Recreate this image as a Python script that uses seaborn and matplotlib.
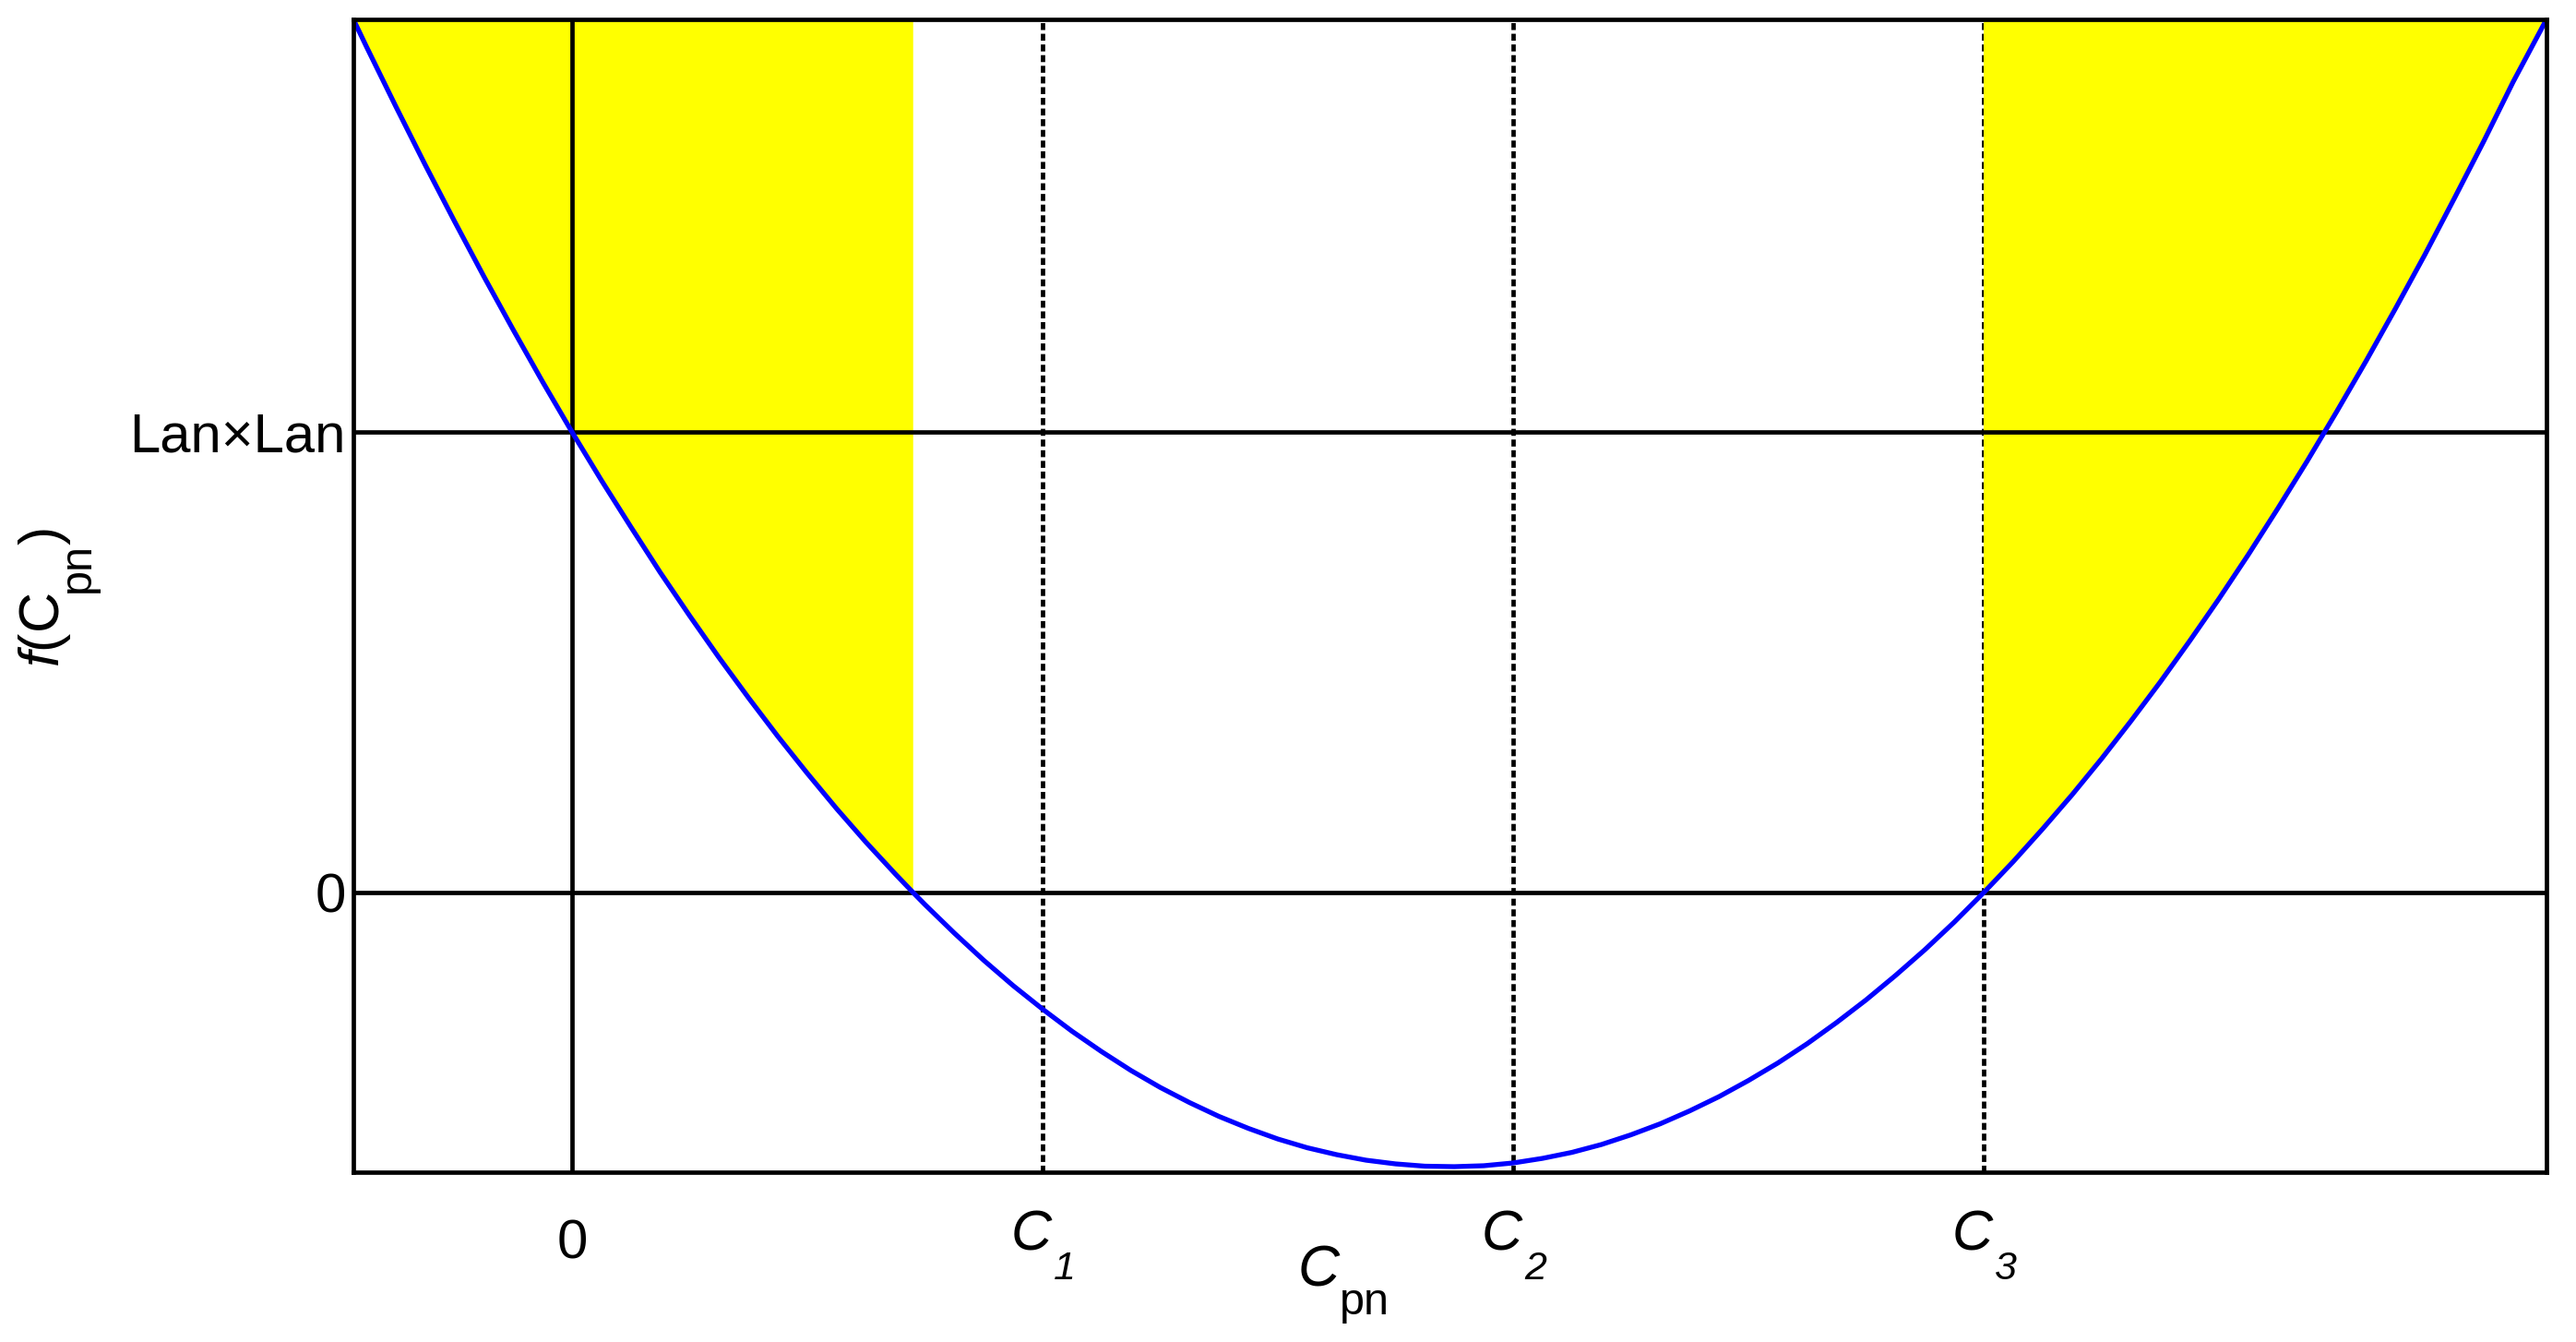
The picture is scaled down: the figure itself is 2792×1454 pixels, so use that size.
import matplotlib
matplotlib.use("Agg")
import matplotlib.pyplot as plt
import matplotlib.transforms as mtransforms
import seaborn as sns
import numpy as np
import pandas as pd

# ---- data (x in units of the C spacing, y in units of Lan×Lan) ----
cpn = [-0.4647, -0.4375, -0.375, -0.3125, -0.25, -0.1875, -0.125, -0.0625, 0.0,
       0.0625, 0.125, 0.1875, 0.25, 0.3125, 0.375, 0.4375, 0.5, 0.5625, 0.625,
       0.6875, 0.725, 0.75, 0.8125, 0.875, 0.9375, 1.0, 1.0625, 1.125, 1.1875,
       1.25, 1.3125, 1.375, 1.4375, 1.5, 1.5625, 1.625, 1.6875, 1.75, 1.8125,
       1.875, 1.9375, 2.0, 2.0625, 2.125, 2.1875, 2.25, 2.3125, 2.375, 2.4375,
       2.5, 2.5625, 2.625, 2.6875, 2.75, 2.8125, 2.875, 2.9375, 3.0, 3.0625,
       3.125, 3.1875, 3.25, 3.3125, 3.375, 3.4375, 3.5, 3.5625, 3.625, 3.6875,
       3.75, 3.8125, 3.875, 3.9375, 4.0, 4.0625, 4.125, 4.196]
f_cpn = [1.896, 1.838, 1.708, 1.581, 1.458, 1.338, 1.222, 1.109, 1.000,
         0.895, 0.794, 0.695, 0.601, 0.510, 0.423, 0.339, 0.259, 0.182, 0.109,
         0.040, 0.0, -0.026, -0.088, -0.147, -0.202, -0.253, -0.301, -0.345, -0.386,
         -0.423, -0.456, -0.486, -0.512, -0.535, -0.554, -0.569, -0.581, -0.589, -0.594,
         -0.595, -0.593, -0.587, -0.577, -0.564, -0.547, -0.526, -0.502, -0.474, -0.443,
         -0.408, -0.370, -0.328, -0.282, -0.233, -0.180, -0.124, -0.064, 0.0, 0.067,
         0.138, 0.212, 0.290, 0.372, 0.457, 0.546, 0.638, 0.734, 0.834, 0.937,
         1.044, 1.154, 1.268, 1.385, 1.507, 1.631, 1.760, 1.896]

xtick_pos = [0, 1, 2, 3]
xtick_labels = ["0", "C", "C", "C"]
xtick_subs = ["", "1", "2", "3"]
ytick_pos = [0, 1]
ytick_labels = ["0", "Lan×Lan"]
dashed_x = [1, 2, 3]
solid_x = [0]
solid_y = [0, 1]
x_range = [-0.4647, 4.196]
y_range = [-0.607, 1.896]

df = pd.DataFrame({"Cpn": cpn, "f": f_cpn})

sns.set_theme(style="white")
plt.rcParams["font.family"] = ["Liberation Sans", "DejaVu Sans"]
plt.rcParams["mathtext.fontset"] = "custom"
plt.rcParams["mathtext.rm"] = "Liberation Sans"
plt.rcParams["mathtext.it"] = "Liberation Sans:italic"

W, H = 2792, 1454
fig = plt.figure(figsize=(W / 100, H / 100), dpi=100)
ax_l, ax_r, ax_t, ax_b = 383, 2760, 21, 1270
ax = fig.add_axes([ax_l / W, 1 - ax_b / H, (ax_r - ax_l) / W, (ax_b - ax_t) / H])
AW, AH = ax_r - ax_l, ax_b - ax_t

def fx(px):
    return (px - ax_l) / AW

def fy(py):
    return (ax_b - py) / AH

x = np.array(cpn)
y = np.array(f_cpn)
ax.fill_between(x, y, y_range[1], where=(y >= 0), interpolate=True,
                color="#ffff00", linewidth=0, zorder=1)

LW = 3.4
for xv in dashed_x:
    ax.axvline(xv, color="black", lw=LW, ls=(0, (1.6, 0.85)), zorder=0.5)
for xv in solid_x:
    ax.axvline(xv, color="black", lw=LW, zorder=2)
for yv in solid_y:
    ax.axhline(yv, color="black", lw=LW, zorder=2)

sns.lineplot(data=df, x="Cpn", y="f", color="#0000ff", lw=3.8, ax=ax, zorder=3, sort=False)

ax.set_xlim(*x_range)
ax.set_ylim(*y_range)

ax.set_xticks(xtick_pos)
ax.set_xticklabels(xtick_labels)
ax.set_yticks(ytick_pos)
ax.set_yticklabels(ytick_labels)
ax.tick_params(axis="x", direction="in", length=18, width=LW, pad=29, labelsize=44, colors="black")
ax.tick_params(axis="y", direction="in", length=0, width=LW, pad=6, labelsize=43, colors="black")

for lbl, sub in zip(ax.get_xticklabels(), xtick_subs):
    if sub:
        lbl.set_fontstyle("italic")
        off = mtransforms.ScaledTranslation(-12 / 100, 0, fig.dpi_scale_trans)
    else:
        lbl.set_fontsize(43)
        off = mtransforms.ScaledTranslation(0, -10 / 100, fig.dpi_scale_trans)
    lbl.set_transform(lbl.get_transform() + off)

for pos, sub in zip(xtick_pos, xtick_subs):
    if sub:
        ax.annotate(sub, xy=(pos, 0), xycoords=("data", "axes fraction"),
                    xytext=(24, -116), textcoords="offset pixels",
                    ha="center", va="baseline", fontsize=31, fontstyle="italic",
                    color="black", annotation_clip=False)

for s in ax.spines.values():
    s.set_color("black")
    s.set_linewidth(LW)
    s.set_zorder(4)

# x label: C with lowered subscript "pn"
ax.set_xlabel("C", fontsize=45, fontstyle="italic", color="black")
ax.xaxis.set_label_coords(fx(1429), fy(1393))
ax.xaxis.label.set_verticalalignment("baseline")
ax.text(fx(1452), fy(1424), "pn", transform=ax.transAxes, fontsize=35,
        ha="left", va="baseline", color="black", clip_on=False)

# y label: f(C with lowered subscript "pn" and closing bracket
ax.set_ylabel(r"$\mathit{f}$(C", fontsize=44, color="black")
ax.yaxis.set_label_coords(fx(64), fy(723))
ax.yaxis.label.set_horizontalalignment("left")
ax.yaxis.label.set_verticalalignment("baseline")
ax.text(fx(97), fy(642), "pn", transform=ax.transAxes, fontsize=35, rotation=90,
        rotation_mode="anchor", ha="left", va="baseline", color="black", clip_on=False)
ax.text(fx(64), fy(590), ")", transform=ax.transAxes, fontsize=44, rotation=90,
        rotation_mode="anchor", ha="left", va="baseline", color="black", clip_on=False)

fig.savefig("out.png", dpi=100, facecolor="white")
